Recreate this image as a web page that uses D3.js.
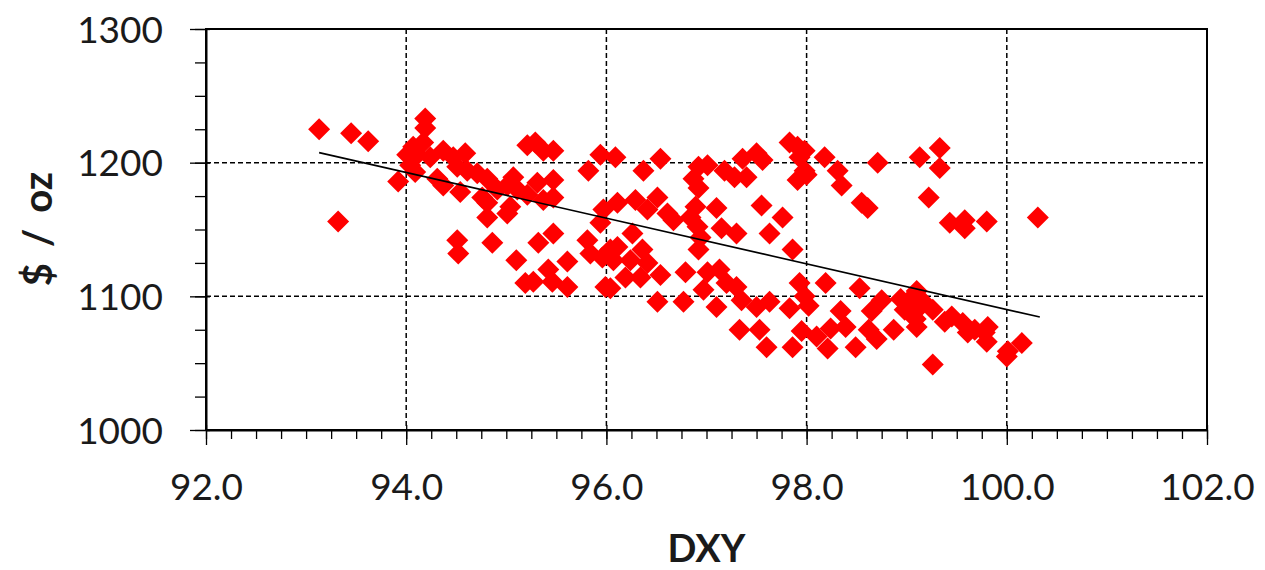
<!DOCTYPE html>
<html>
<head>
<meta charset="utf-8">
<script src="https://cdn.jsdelivr.net/npm/d3@7"></script>
<style>
  html, body { margin: 0; padding: 0; background: #ffffff; }
  svg { display: block; }
</style>
</head>
<body>
<svg id="chart" width="1265" height="570"></svg>
<script>
// ---- data ----
const dxy = [
  93.13, 93.45, 93.62, 93.32, 93.92,
  94.19, 94.19, 94.07, 94.17, 94.01, 94.11, 94.24, 94.04, 94.09, 94.37, 94.47, 94.59, 94.31, 94.37, 94.54,
  94.51, 94.61, 94.71, 94.81, 94.76, 94.81, 94.81, 94.91, 95.01, 95.07, 95.11, 95.01, 95.04, 95.21, 95.31,
  95.47, 95.47, 95.37, 95.21, 95.29, 95.37, 95.47, 95.82, 95.94, 95.97, 95.94,
  94.51, 94.52, 94.86, 95.10, 95.19, 95.27, 95.32, 95.47, 95.42, 95.46, 95.61, 95.61, 95.81, 95.84, 95.96, 95.99,
  96.09, 96.37, 96.54, 96.11, 96.29, 96.41, 96.51, 96.61, 96.67, 96.26, 96.11, 96.07, 96.24, 96.36, 96.41,
  96.19, 96.34, 96.54, 96.04, 96.51, 96.77, 96.79, 97.01, 97.13, 96.97, 97.10, 97.20, 97.30, 97.35, 97.33,
  97.50, 97.53, 97.60, 96.92, 97.01, 96.87, 96.92, 96.89, 96.84, 96.91, 96.92, 96.94, 97.10, 97.15, 97.30,
  97.18, 97.28, 97.40, 97.36, 97.50, 97.56, 97.55, 97.63, 96.04,
  97.83, 97.91, 97.93, 97.98, 98.18, 97.98, 97.91, 98.00, 98.31, 98.35, 98.71, 99.13, 97.76, 97.86, 98.55,
  98.61, 99.22,
  97.93, 97.98, 98.02, 97.83, 97.63, 97.95, 97.86, 98.19, 98.10, 98.24, 98.34, 98.21, 98.39, 98.49, 98.53,
  98.65, 98.70, 98.87, 98.94, 99.04, 99.10, 98.98, 99.09, 99.10, 98.62, 98.75,
  99.33, 99.33, 99.43, 99.58, 99.58, 99.80, 100.31,
  99.15, 99.26, 99.38, 99.45, 99.56, 99.61, 99.68, 99.78, 99.81, 99.80, 100.00, 100.01, 100.15, 99.26, 99.13
];
const gold = [
  1225, 1222, 1216, 1156, 1186,
  1233, 1226, 1212, 1215, 1206, 1206, 1204, 1198, 1193, 1209, 1204, 1207, 1188, 1183, 1178,
  1197, 1194, 1192, 1188, 1174, 1170, 1159, 1180, 1183, 1189, 1180, 1162, 1167, 1176, 1185,
  1187, 1174, 1172, 1213, 1215, 1209, 1209, 1194, 1206, 1165, 1155,
  1142, 1132, 1140, 1127, 1110, 1111, 1140, 1147, 1120, 1111, 1126, 1107, 1142, 1132, 1129, 1107,
  1204, 1194, 1203, 1170, 1172, 1165, 1174, 1162, 1157, 1147, 1137, 1127, 1127, 1135, 1125,
  1114, 1114, 1116, 1106, 1096, 1096, 1118, 1118, 1120, 1105, 1092, 1110, 1107, 1097, 1075,
  1092, 1075, 1062, 1197, 1198, 1188, 1181, 1167, 1159, 1152, 1135, 1144, 1166, 1151, 1147,
  1194, 1189, 1189, 1203, 1207, 1202, 1168, 1147, 1135,
  1215, 1212, 1204, 1209, 1204, 1194, 1187, 1191, 1194, 1183, 1200, 1204, 1159, 1135, 1170,
  1166, 1174,
  1110, 1100, 1093, 1091, 1096, 1074, 1062, 1110, 1070, 1076, 1089, 1061, 1077, 1062, 1106,
  1089, 1068, 1075, 1098, 1098, 1104, 1090, 1083, 1077, 1075, 1097,
  1211, 1196, 1155, 1157, 1151, 1156, 1159,
  1097, 1090, 1081, 1085, 1080, 1073, 1075, 1073, 1077, 1066, 1055, 1059, 1065, 1049, 1092
];
const xTicks = [92, 94, 96, 98, 100, 102];
const yTicks = [1000, 1100, 1200, 1300];
const trendX = [93.13, 100.33];
const trendY = [1207.5, 1084.5];

// ---- layout ----
const svg = d3.select("#chart");
const pLeft = 206, pRight = 1207, pTop = 29, pBottom = 430;
const x = d3.scaleLinear().domain([92, 102]).range([pLeft, pRight]);
const y = d3.scaleLinear().domain([1000, 1300]).range([pBottom, pTop]);
const FONT = "Lato, 'Open Sans', sans-serif";

// grid lines
const grid = svg.append("g");
grid.selectAll("line.gx").data(xTicks.slice(1, -1)).join("line")
  .attr("x1", d => x(d)).attr("x2", d => x(d))
  .attr("y1", pTop).attr("y2", pBottom)
  .attr("stroke", "#000").attr("stroke-width", 1.5).attr("stroke-dasharray", "5,3");
grid.selectAll("line.gy").data(yTicks.slice(1, -1)).join("line")
  .attr("x1", pLeft).attr("x2", pRight)
  .attr("y1", d => y(d)).attr("y2", d => y(d))
  .attr("stroke", "#000").attr("stroke-width", 1.5).attr("stroke-dasharray", "5,3");

// points
const pts = dxy.map((v, i) => ({x: v, y: gold[i]}));
const diamond = d3.symbol().type(d3.symbolSquare).size(242);
svg.append("g").selectAll("path").data(pts).join("path")
  .attr("d", diamond)
  .attr("transform", d => `translate(${x(d.x)},${y(d.y)}) rotate(45)`)
  .attr("fill", "#ff0000");

// trend line
svg.append("path")
  .datum(trendX.map((v, i) => [v, trendY[i]]))
  .attr("d", d3.line().x(d => x(d[0])).y(d => y(d[1])))
  .attr("fill", "none").attr("stroke", "#000").attr("stroke-width", 1.6);

// frame
svg.append("rect").attr("x", pLeft).attr("y", pTop)
  .attr("width", pRight - pLeft).attr("height", pBottom - pTop)
  .attr("fill", "none").attr("stroke", "#000").attr("stroke-width", 2);

// minor ticks
const xMinor = d3.range(92, 102.001, 0.25);
const yMinor = d3.range(1000, 1300.001, 25);
svg.append("g").attr("transform", `translate(0,${pBottom})`)
  .call(d3.axisBottom(x).tickValues(xMinor).tickSize(9).tickFormat("").tickSizeOuter(0))
  .call(g => g.select(".domain").remove())
  .selectAll("line").attr("stroke-width", 1.3);
svg.append("g").attr("transform", `translate(${pLeft},0)`)
  .call(d3.axisLeft(y).tickValues(yMinor).tickSize(11).tickFormat("").tickSizeOuter(0))
  .call(g => g.select(".domain").remove())
  .selectAll("line").attr("stroke-width", 1.3);

// major ticks + labels
const xAxis = svg.append("g").attr("transform", `translate(0,${pBottom})`)
  .call(d3.axisBottom(x).tickValues(xTicks).tickSize(15).tickFormat(d3.format(".1f")).tickSizeOuter(0));
xAxis.select(".domain").attr("stroke-width", 2);
xAxis.selectAll(".tick line").attr("y1", -5).attr("stroke-width", 1.3);
xAxis.selectAll(".tick text").attr("y", 70).attr("dy", 0)
  .style("font-family", FONT).style("font-size", "37px").attr("fill", "#1a1a1a");

const yAxis = svg.append("g").attr("transform", `translate(${pLeft},0)`)
  .call(d3.axisLeft(y).tickValues(yTicks).tickSize(16).tickFormat(d3.format("d")).tickSizeOuter(0));
yAxis.select(".domain").attr("stroke-width", 2);
yAxis.selectAll(".tick line").attr("x1", 4).attr("stroke-width", 1.3);
yAxis.selectAll(".tick text").attr("x", -43).attr("dy", "0.36em")
  .style("font-family", FONT).style("font-size", "37px").attr("fill", "#1a1a1a");

// axis titles
svg.append("text").attr("x", (pLeft + pRight) / 2).attr("y", 562)
  .attr("text-anchor", "middle")
  .style("font-family", FONT).style("font-size", "38px").style("font-weight", "bold")
  .attr("fill", "#1a1a1a").text("DXY");
svg.append("text").attr("transform", "translate(52,229) rotate(-90)")
  .attr("text-anchor", "middle")
  .style("font-family", FONT).style("font-size", "40px").style("font-weight", "bold")
  .style("word-spacing", "6px")
  .attr("fill", "#1a1a1a").text("$ / oz");
</script>
</body>
</html>
